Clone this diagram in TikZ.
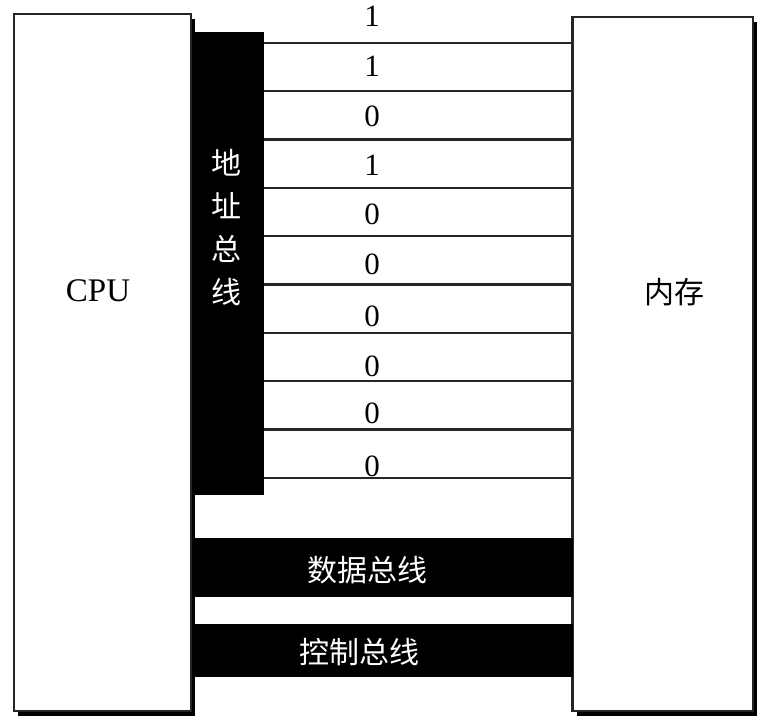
\documentclass[tikz,border=0pt]{standalone}
\usepackage{fontspec}
\setmainfont{Liberation Serif}
\newfontfamily\cjk{Noto Sans CJK SC}
\usetikzlibrary{shadows}
\begin{document}
\begin{tikzpicture}[x=1pt,y=-1pt,
  unit/.style={draw=black!85, line width=2.6pt, fill=white, inner sep=0pt,
    drop shadow={shadow xshift=4pt, shadow yshift=-5pt, opacity=1, fill=black}},
  bus/.style={fill=black, inner sep=0pt},
  wire/.style={draw=black!85, line width=2.6pt},
  bit/.style={font=\fontsize{31}{31}\selectfont, inner sep=0pt},
  unitlabel/.style={inner sep=0pt},
  buslabel/.style={text=white, font=\cjk\fontsize{30}{30}\selectfont, inner sep=0pt},
]
\useasboundingbox (0,0) rectangle (771,728);

% CPU and memory units
\node[unit, minimum width=177pt, minimum height=697pt] (cpu) at (102.5,362.5) {};
\node[unit, minimum width=180.5pt, minimum height=694pt] (mem) at (662.75,364) {};
\node[unitlabel, font=\fontsize{33}{33}\selectfont] (cpulabel) at (98,291) {CPU};
\node[unitlabel, font=\cjk\fontsize{30}{30}\selectfont] (memlabel) at (674,292) {内存};

% address bus
\node[bus, minimum width=72pt, minimum height=463pt] (abus) at (228,263.5) {};
\node[buslabel, font=\cjk\fontsize{30}{43}\selectfont, align=center] (abuslabel) at (226,228) {地\\址\\总\\线};

% address lines with their bit values
\foreach \y in {43,91,139.5,188,236,284.5,333,381,429.5,478}
  \draw[wire] (abus.east |- 0,\y) -- (mem.west |- 0,\y);
\foreach \v/\y [count=\i] in {1/16,1/66,0/116,1/165,0/214,0/264,0/316,0/366,0/413,0/466}
  \node[bit] (bit\i) at (372,\y) {\v};

% data bus and control bus
\node[bus, minimum width=380.5pt, minimum height=59pt] (dbus) at (382.25,567.5) {};
\node[buslabel] (dbuslabel) at (367,570) {数据总线};
\node[bus, minimum width=380.5pt, minimum height=53pt] (cbus) at (382.25,650.5) {};
\node[buslabel] (cbuslabel) at (359,652) {控制总线};
\end{tikzpicture}
\end{document}
